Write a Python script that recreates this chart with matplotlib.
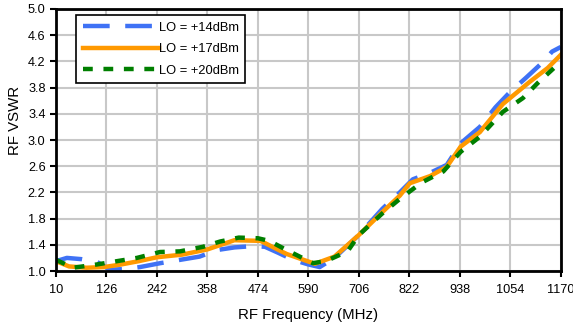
import matplotlib.pyplot as plt

plt.rcParams['font.family'] = ['Liberation Sans', 'DejaVu Sans']

freq_14 = [10, 35, 70, 104, 134, 170, 203, 250, 295, 340, 380, 420, 463, 490, 520, 555, 590, 616, 650, 706, 760, 800, 830, 870, 908, 940, 984, 1020, 1053, 1090, 1129, 1150, 1170]
vswr_14 = [1.15, 1.20, 1.18, 1.14, 1.02, 1.03, 1.06, 1.12, 1.17, 1.22, 1.32, 1.36, 1.38, 1.37, 1.28, 1.17, 1.10, 1.06, 1.20, 1.55, 1.95, 2.20, 2.40, 2.50, 2.62, 2.95, 3.20, 3.50, 3.73, 3.95, 4.19, 4.35, 4.42]

freq_17 = [10, 40, 80, 120, 160, 200, 242, 300, 358, 420, 480, 540, 605, 650, 706, 760, 800, 823, 870, 908, 940, 984, 1037, 1099, 1140, 1170]
vswr_17 = [1.15, 1.07, 1.05, 1.06, 1.10, 1.15, 1.21, 1.25, 1.33, 1.47, 1.46, 1.26, 1.11, 1.22, 1.55, 1.90, 2.15, 2.34, 2.45, 2.59, 2.90, 3.12, 3.55, 3.89, 4.10, 4.30]

freq_20 = [10, 49, 104, 150, 196, 249, 295, 348, 387, 430, 474, 500, 540, 600, 630, 680, 706, 760, 800, 850, 900, 940, 984, 1037, 1083, 1117, 1161, 1170]
vswr_20 = [1.17, 1.05, 1.10, 1.15, 1.20, 1.29, 1.30, 1.37, 1.45, 1.51, 1.50, 1.46, 1.32, 1.12, 1.15, 1.30, 1.55, 1.88, 2.10, 2.35, 2.52, 2.82, 3.05, 3.43, 3.64, 3.87, 4.14, 4.20]

x_ticks = [10, 126, 242, 358, 474, 590, 706, 822, 938, 1054, 1170]
y_ticks = [1.0, 1.4, 1.8, 2.2, 2.6, 3.0, 3.4, 3.8, 4.2, 4.6, 5.0]

fig = plt.figure(figsize=(5.73, 3.26), dpi=100)
ax = fig.add_axes([0.0977, 0.1687, 0.881, 0.8037])

ax.plot(freq_14, vswr_14, color='#3f72f5', lw=3.2, dashes=(6, 3.5), label='LO = +14dBm')
ax.plot(freq_17, vswr_17, color='#ff9900', lw=3.2, label='LO = +17dBm')
ax.plot(freq_20, vswr_20, color='#007f00', lw=3.2, dashes=(2.2, 2.4), label='LO = +20dBm')

ax.set_xlim(10, 1170)
ax.set_ylim(1.0, 5.0)
ax.set_xticks(x_ticks)
ax.set_yticks(y_ticks)
ax.set_yticklabels([f'{v:.1f}' for v in y_ticks])
ax.grid(True, color='#c8c8c8', lw=1.5)
ax.set_axisbelow(True)
for s in ax.spines.values():
    s.set_linewidth(2)
    s.set_color('black')
ax.tick_params(labelsize=9.2, length=4, width=1.5, direction='out')
ax.tick_params(axis='x', pad=5)

ax.set_xlabel('RF Frequency (MHz)', fontsize=10.8, labelpad=9)
ax.set_ylabel('RF VSWR', fontsize=10.8)
ax.yaxis.set_label_coords(-0.068, 0.576)

leg = ax.legend(loc='upper left', bbox_to_anchor=(0.04, 0.977), fontsize=9.3,
                handlelength=5.9, handletextpad=0.0, borderpad=0.5,
                borderaxespad=0, labelspacing=0.75, fancybox=False, framealpha=1)
leg.get_frame().set_edgecolor('black')
leg.get_frame().set_linewidth(1.2)

fig.savefig('out.png', dpi=100)
